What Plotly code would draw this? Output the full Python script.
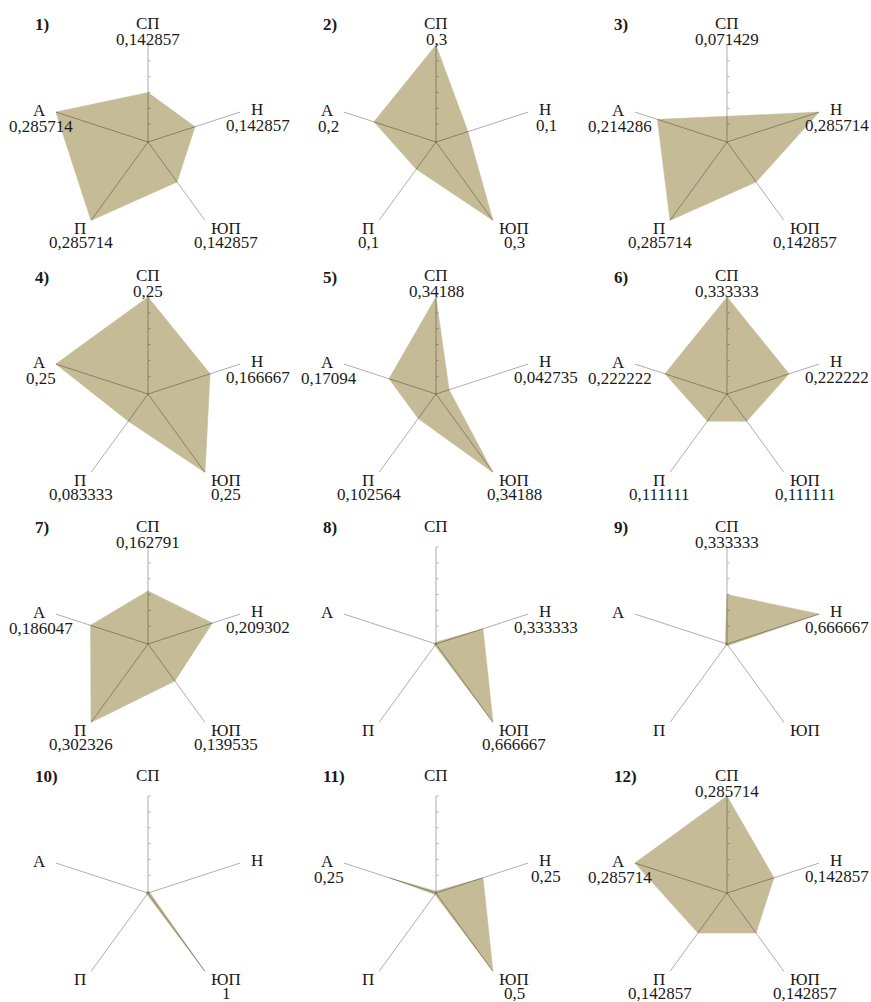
import math
import plotly.graph_objects as go

# ---- data ----
CATS = ["СП", "Н", "ЮП", "П", "А"]
V1 = [0.142857, 0.142857, 0.142857, 0.285714, 0.285714]
V2 = [0.3, 0.1, 0.3, 0.1, 0.2]
V3 = [0.071429, 0.285714, 0.142857, 0.285714, 0.214286]
V4 = [0.25, 0.166667, 0.25, 0.083333, 0.25]
V5 = [0.34188, 0.042735, 0.34188, 0.102564, 0.17094]
V6 = [0.333333, 0.222222, 0.111111, 0.111111, 0.222222]
V7 = [0.162791, 0.209302, 0.139535, 0.302326, 0.186047]
V8 = [0, 0.333333, 0.666667, 0, 0]
V9 = [0.333333, 0.666667, 0, 0, 0]
V10 = [0, 0, 1, 0, 0]
V11 = [0, 0.25, 0.5, 0, 0.25]
V12 = [0.285714, 0.142857, 0.142857, 0.142857, 0.285714]
SERIES = [V1, V2, V3, V4, V5, V6, V7, V8, V9, V10, V11, V12]
TITLES = ["1)", "2)", "3)", "4)", "5)", "6)", "7)", "8)", "9)", "10)", "11)", "12)"]

# ---- layout / style ----
W, H = 871, 1002
COL_CX = [148, 436, 727]
ROW_CY = [142, 394, 644, 893]
R = 97
FILL = "#c5bc97"
SPOKE = "rgba(0,0,0,0.32)"
FONT = "Liberation Serif"
FS = 17
TXT = "#1a1a1a"
# label offsets (px, y downward) for name and value relative to axis end
NAME_OFF = [(0, -21), (17, -3), (21, 8), (-11, 8), (-16, -2)]
VAL_OFF = [(0, -5), (18, 13), (21, 22), (-10, 22), (-15, 14)]


def fmt(v):
    s = f"{v:.6f}".rstrip("0").rstrip(".")
    return s.replace(".", ",")


fig = go.Figure()
layout = dict(width=W, height=H, margin=dict(l=0, r=0, t=0, b=0),
              paper_bgcolor="white", plot_bgcolor="white", showlegend=False)
annotations = []

for i, vals in enumerate(SERIES):
    row, col = divmod(i, 3)
    cx, cy = COL_CX[col], ROW_CY[row]
    m = max(vals)
    r0 = -0.02 * m
    key = "polar" if i == 0 else f"polar{i + 1}"
    sub = key

    fig.add_trace(go.Scatterpolar(
        r=list(vals) + [vals[0]], theta=CATS + [CATS[0]], mode="lines",
        fill="toself", fillcolor=FILL, line=dict(color=FILL, width=0.5),
        hoverinfo="skip", subplot=sub))

    sr, st = [], []
    for c in CATS:
        sr += [r0, m, None]
        st += [c, c, None]
    fig.add_trace(go.Scatterpolar(
        r=sr, theta=st, mode="lines", line=dict(color=SPOKE, width=1),
        hoverinfo="skip", subplot=sub))

    layout[key] = dict(
        domain=dict(x=[(cx - R) / W, (cx + R) / W],
                    y=[1 - (cy + R) / H, 1 - (cy - R) / H]),
        bgcolor="rgba(0,0,0,0)",
        angularaxis=dict(type="category", categoryarray=CATS, rotation=90,
                         direction="clockwise", showgrid=False, showline=False,
                         showticklabels=False, ticks=""),
        radialaxis=dict(range=[r0, m], angle=90, showgrid=False, showline=False,
                        showticklabels=False, ticks="outside", ticklen=2,
                        tickcolor=SPOKE, tickwidth=1,
                        tickvals=[m * k / 6 for k in range(1, 7)]),
    )

    for j, c in enumerate(CATS):
        a = math.radians(90 - 72 * j)
        ex, ey = cx + R * math.cos(a), cy - R * math.sin(a)
        nx, ny = ex + NAME_OFF[j][0], ey + NAME_OFF[j][1]
        annotations.append(dict(text=c, x=nx / W, y=1 - ny / H, xref="paper", yref="paper",
                                xanchor="center", yanchor="middle", showarrow=False,
                                font=dict(family=FONT, size=FS, color=TXT)))
        if vals[j] > 0:
            vx, vy = ex + VAL_OFF[j][0], ey + VAL_OFF[j][1]
            annotations.append(dict(text=fmt(vals[j]), x=vx / W, y=1 - vy / H,
                                    xref="paper", yref="paper", xanchor="center",
                                    yanchor="middle", showarrow=False,
                                    font=dict(family=FONT, size=FS, color=TXT)))
    annotations.append(dict(text=f"<b>{TITLES[i]}</b>", x=(cx - 115) / W, y=1 - (cy - 117) / H,
                            xref="paper", yref="paper", xanchor="left", yanchor="middle",
                            showarrow=False, font=dict(family=FONT, size=FS, color=TXT)))

layout["annotations"] = annotations
fig.update_layout(**layout)
fig.write_html("out.html")
